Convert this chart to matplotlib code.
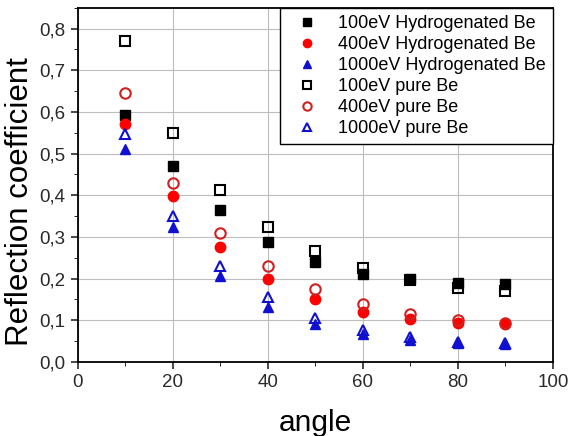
import matplotlib
matplotlib.use("Agg")
import matplotlib.pyplot as plt
from matplotlib.ticker import FuncFormatter, MultipleLocator

plt.rcParams['font.family'] = ['Liberation Sans', 'DejaVu Sans']

angle = [10, 20, 30, 40, 50, 60, 70, 80, 90]

# hydrogenated Be
h100 = [0.592, 0.470, 0.365, 0.287, 0.239, 0.212, 0.198, 0.190, 0.186]
h400 = [0.572, 0.398, 0.275, 0.198, 0.152, 0.120, 0.102, 0.094, 0.090]
h1000 = [0.512, 0.325, 0.205, 0.132, 0.092, 0.066, 0.052, 0.045, 0.042]

# pure Be
p100 = [0.771, 0.550, 0.412, 0.324, 0.266, 0.226, 0.196, 0.178, 0.170]
p400 = [0.646, 0.430, 0.310, 0.230, 0.174, 0.138, 0.114, 0.100, 0.094]
p1000 = [0.546, 0.350, 0.230, 0.156, 0.106, 0.076, 0.060, 0.048, 0.046]

fig = plt.figure(figsize=(5.7, 4.36), dpi=100)
ax = fig.add_axes([0.136, 0.170, 0.834, 0.812])

ms = 7
ax.plot(angle, h100, 's', color='black', ms=ms, label='100eV Hydrogenated Be')
ax.plot(angle, h400, 'o', color='red', ms=ms+0.5, label='400eV Hydrogenated Be')
ax.plot(angle, h1000, '^', color='#1010d0', ms=ms+0.5, label='1000eV Hydrogenated Be')
ax.plot(angle, p100, 's', mfc='none', mec='black', mew=1.5, ms=ms, label='100eV pure Be')
ax.plot(angle, p400, 'o', mfc='none', mec='#d02020', mew=1.5, ms=ms+0.5, label='400eV pure Be')
ax.plot(angle, p1000, '^', mfc='none', mec='#1010d0', mew=1.5, ms=ms+0.5, label='1000eV pure Be')

ax.set_xlim(0, 100)
ax.set_ylim(0, 0.85)
ax.xaxis.set_major_locator(MultipleLocator(20))
ax.xaxis.set_minor_locator(MultipleLocator(10))
ax.yaxis.set_major_locator(MultipleLocator(0.1))
ax.yaxis.set_minor_locator(MultipleLocator(0.05))
ax.yaxis.set_major_formatter(FuncFormatter(lambda v, p: f"{v:.1f}".replace('.', ',')))
ax.grid(True, which='major', color='#bdbdbd', lw=0.8)
ax.set_axisbelow(True)

ax.tick_params(labelsize=13.5, colors='#2a2a2a', width=1.2, length=5)
ax.tick_params(axis='x', pad=4)
ax.tick_params(which='minor', length=3)
for s in ax.spines.values():
    s.set_linewidth(1.3)

ax.set_xlabel('angle', fontsize=21.5, labelpad=13)
ax.set_ylabel('Reflection coefficient', fontsize=22.5)
ax.yaxis.set_label_coords(-0.09, 0.452)

leg = ax.legend(loc='upper right', fontsize=13, fancybox=False, edgecolor='black',
                framealpha=1, borderaxespad=0, handlelength=2.2, handletextpad=0.6,
                labelspacing=0.22, borderpad=0.4, markerscale=0.8)
leg.get_frame().set_linewidth(1.0)

fig.savefig('out.png', dpi=100)
